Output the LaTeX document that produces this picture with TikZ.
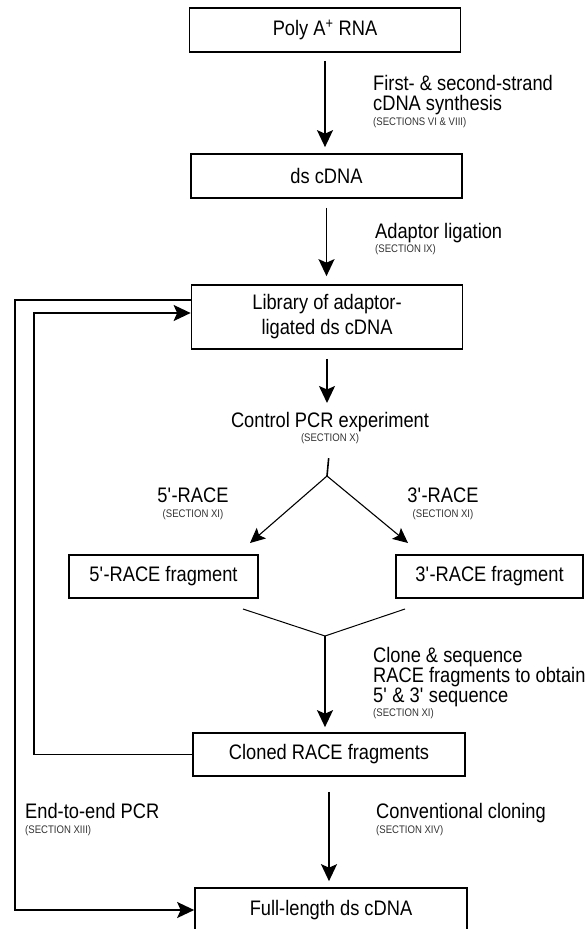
\documentclass[tikz,border=0pt]{standalone}
\usepackage{fontspec}
\setmainfont{Liberation Sans}[FakeStretch=0.87]
\usetikzlibrary{arrows.meta,positioning}

\begin{document}
\begin{tikzpicture}[x=1pt, y=-1pt,
            every node/.style = {inner sep=0pt, font=\fontsize{21}{20}\selectfont},
            box/.style = {draw, line width=1.7pt, minimum width=271pt,
                          minimum height=44pt, align=center},
            lbl/.style = {anchor=north west, align=left},
            sect/.style = {font=\fontsize{11}{12}\selectfont, text=black!80},
            arr/.style = {line width=1.8pt, -{Stealth[length=17pt, width=16pt, inset=3.5pt]}},
            thinarr/.style = {line width=1.1pt, -{Stealth[length=15pt, width=14pt, inset=3pt]}}]
    \useasboundingbox (0,0) rectangle (588,929);

    % main column
    \node[box] (poly) at (325,30) {Poly A\textsuperscript{+} RNA};
    \node[box] (ds) at (326.5,176) {ds cDNA};
    \node[box, minimum height=64pt, font=\fontsize{21}{25}\selectfont] (lib) at (327,317)
        {Library of adaptor-\\ligated ds cDNA};
    \node[anchor=north] (ctrl) at (330,412) {Control PCR experiment};
    \node[sect, below=1.5pt of ctrl] (sctrl) {(SECTION X)};
    \node[box, minimum width=189pt, minimum height=43pt] (r5) at (163.5,576.5) {5\textquotesingle-RACE fragment};
    \node[box, minimum width=187pt, minimum height=43pt] (r3) at (489.5,576.5) {3\textquotesingle-RACE fragment};
    \node[box, minimum width=272pt, minimum height=43pt] (clo) at (329,754.5) {Cloned RACE fragments};
    \node[box, minimum width=272pt] (full) at (331,910) {Full-length ds cDNA};

    % labels
    \node[lbl] (l1) at (373,75) {First- \& second-strand\\cDNA synthesis};
    \node[sect, below=2.5pt of l1.south west, anchor=north west] (s1) {(SECTIONS VI \& VIII)};
    \node[lbl] (l2) at (375,223) {Adaptor ligation};
    \node[sect, below=1.5pt of l2.south west, anchor=north west] (s2) {(SECTION IX)};
    \node[anchor=north] (l5) at (193,488) {5\textquotesingle-RACE};
    \node[sect, below=6.5pt of l5] (s5) {(SECTION XI)};
    \node[anchor=north] (l3) at (443,488) {3\textquotesingle-RACE};
    \node[sect, below=6.5pt of l3] (s3) {(SECTION XI)};
    \node[lbl] (lc) at (373,647)
        {Clone \& sequence\\RACE fragments to obtain\\5\textquotesingle{} \& 3\textquotesingle{} sequence};
    \node[sect, below=1.5pt of lc.south west, anchor=north west] (sc) {(SECTION XI)};
    \node[lbl] (le) at (25,803) {End-to-end PCR};
    \node[sect, below=6.5pt of le.south west, anchor=north west] (se) {(SECTION XIII)};
    \node[lbl] (lv) at (376,803) {Conventional cloning};
    \node[sect, below=2.5pt of lv.south west, anchor=north west] (sv) {(SECTION XIV)};

    % fork and merge points
    \coordinate (fork) at (327,476);
    \coordinate (tip5) at (250,543);
    \coordinate (tip3) at (408,543);
    \coordinate (m5) at (243,609);
    \coordinate (m3) at (405,609);
    \coordinate (merge) at (325,636);
    \coordinate (outer) at (15,0);
    \coordinate (inner) at (34,0);
    \coordinate (libout) at ([yshift=17pt]lib.west);
    \coordinate (libin) at ([yshift=4pt]lib.west);

    % arrows
    \draw[arr, shorten <=8pt, shorten >=6pt] (poly.south) -- (poly.south |- ds.north);
    \draw[arr, shorten <=9pt, shorten >=8pt] (ds.south) -- (ds.south |- lib.north);
    \draw[arr, shorten <=9pt, shorten >=9pt] (lib.south) -- (lib.south |- ctrl.north);
    \draw[line width=1.6pt, shorten <=14pt] (sctrl.south) -- (fork);
    \draw[thinarr] (fork) -- (tip5);
    \draw[thinarr] (fork) -- (tip3);
    \draw[line width=1pt] (m5) -- (merge) -- (m3);
    \draw[arr, shorten >=5pt] (merge) -- (merge |- clo.north);
    \draw[arr, shorten <=15pt, shorten >=6pt] (clo.south) -- (clo.south |- full.north);

    % feedback loops
    \draw[arr] (libout) -| (outer |- full.west) -- (full.west);
    \draw[arr] (clo.west) -| (inner |- libin) -- (libin);
\end{tikzpicture}
\end{document}
